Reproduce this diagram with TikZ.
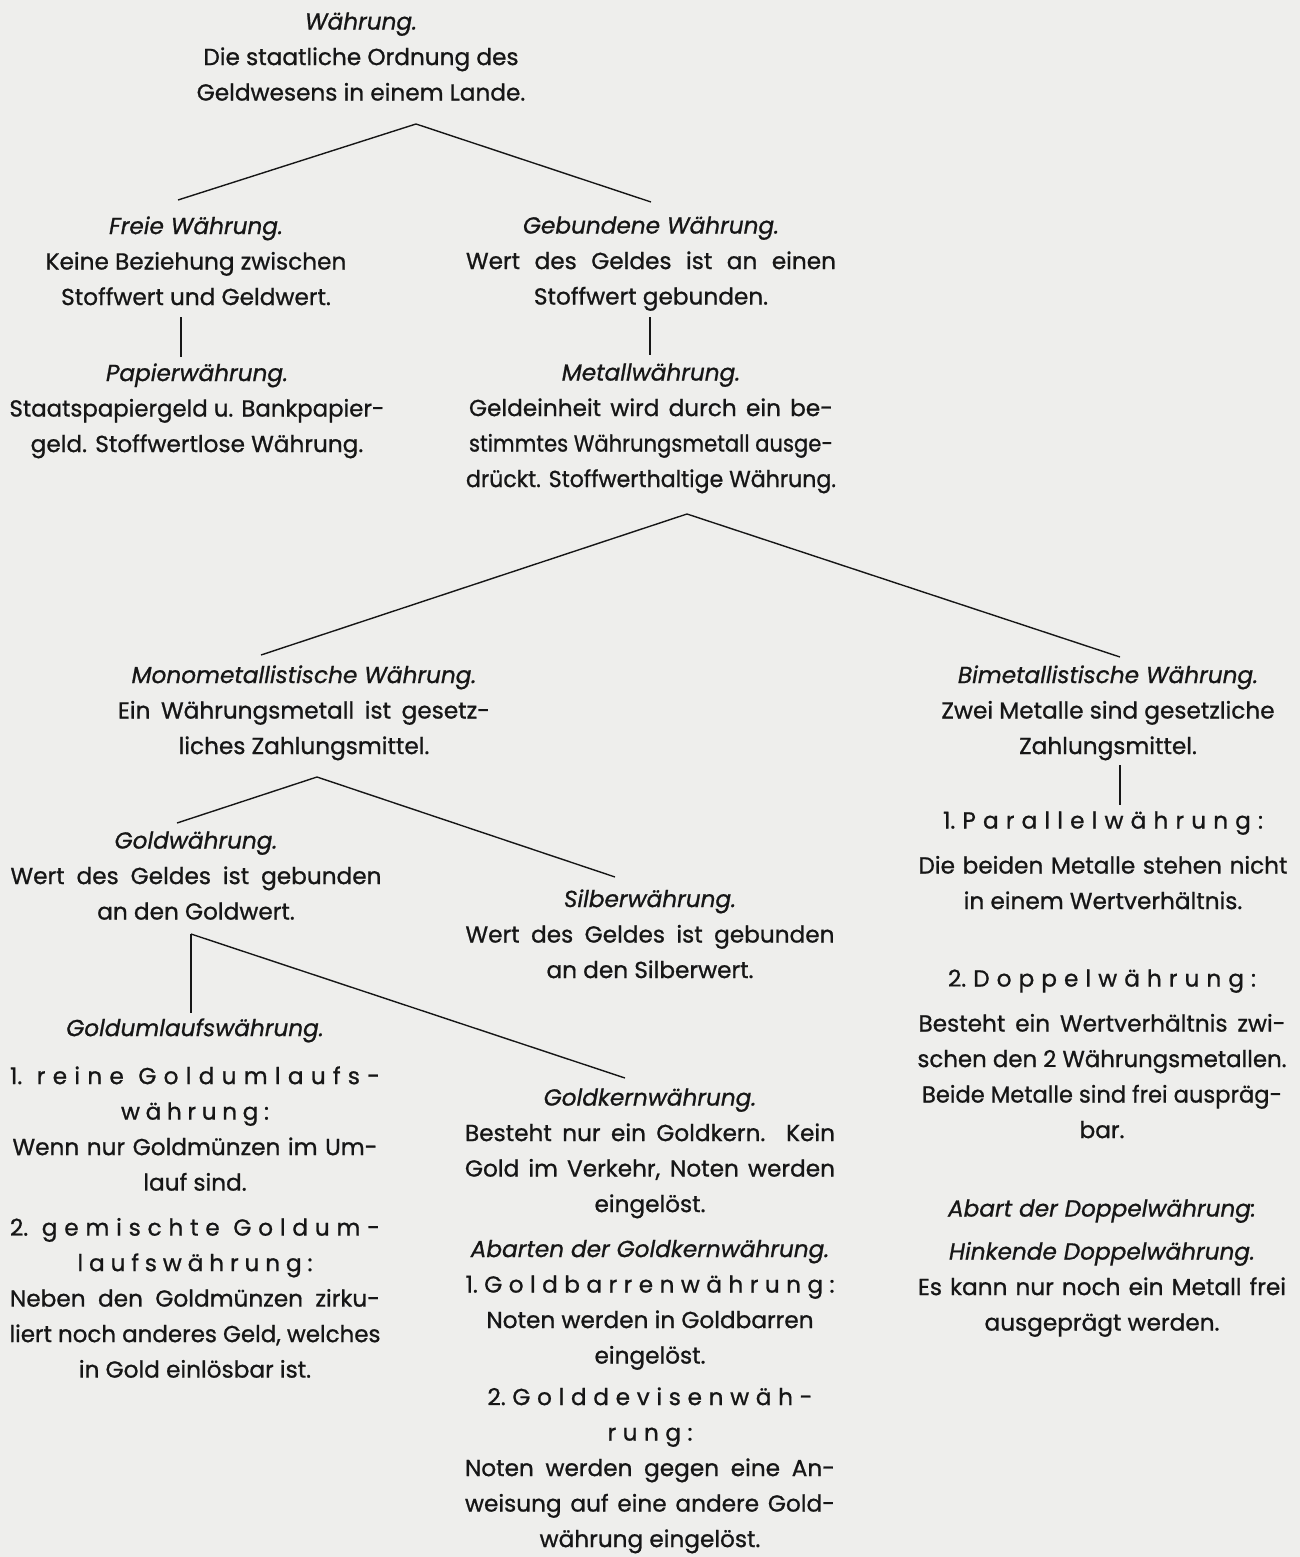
\documentclass[tikz,border=0pt]{standalone}
\usepackage{fontspec}
\setmainfont{Poppins}[FakeBold=0.9]
\usepackage{graphicx}
\usepackage{xcolor}
\usepackage{tikz}

\definecolor{papier}{RGB}{238,238,236}
\definecolor{tinte}{RGB}{22,22,22}

% justified line of a given width
\newlength\colw \setlength\colw{185pt}
\newlength\jlwd
\newcommand\jl[2][\colw]{\settowidth\jlwd{#2}\ifdim\jlwd>#1\resizebox{#1}{\height}{#2}\else\makebox[#1][s]{#2}\fi}

% letter-spaced line, | marks a word gap
\makeatletter
\newcommand\gesperrt[2]{\makebox[#1][s]{\gesp@a#2\@nil}}
\def\gesp@a#1{#1\gesp@b}
\def\gesp@b#1{\ifx#1\@nil\else\hfill\ifx#1|\else#1\fi\expandafter\gesp@b\fi}
\makeatother

\tikzset{
	blk/.style={anchor=north, align=center, inner sep=0pt, text=tinte,
		font=\fontsize{11.6}{17.75}\selectfont, execute at begin node=\strut},
	ast/.style={draw=tinte, line width=0.7pt},
}

\begin{document}
\begin{tikzpicture}[x=0.5pt,y=-0.5pt]
	\fill [papier] (0,0) rectangle (1300,1557);
	\useasboundingbox (0,0) rectangle (1300,1557);

	\node (waehrung) at (361,12)   [blk] {\textit{Währung.}\\ Die staatliche Ordnung des\\ Geldwesens in einem Lande.};
	\node (frei)     at (196,216)  [blk] {\textit{Freie Währung.}\\ Keine Beziehung zwischen\\ Stoffwert und Geldwert.};
	\node (papier)   at (197,363)  [blk] {\textit{Papierwährung.}\\ \jl[187.5pt]{Staatspapiergeld u. Bankpapier-}\\ geld. Stoffwertlose Währung.};
	\node (gebunden) at (651,216)  [blk] {\textit{Gebundene Währung.}\\ \jl{Wert des Geldes ist an einen}\\ Stoffwert gebunden.};
	\node (metall)   at (651,363)  [blk] {\textit{Metallwährung.}\\ \jl[182pt]{Geldeinheit wird durch ein be-}\\
		\jl[182pt]{stimmtes Währungsmetall ausge-}\\ \jl{drückt. Stoffwerthaltige Währung.}};
	\node (mono)     at (304,665)  [blk] {\textit{Monometallistische Währung.}\\ \jl[186pt]{Ein Währungsmetall ist gesetz-}\\ liches Zahlungsmittel.};
	\node (bimetall) at (1108,665) [blk] {\textit{Bimetallistische Währung.}\\ Zwei Metalle sind gesetzliche\\ Zahlungsmittel.};
	\node (parallel) at (1103,811) [blk] {\gesperrt{160pt}{{1.}Parallelwährung:}\\[4.75pt]
		\jl[184.5pt]{Die beiden Metalle stehen nicht}\\ in einem Wertverhältnis.};
	\node (doppel)   at (1102,969) [blk] {\gesperrt{154pt}{{2.}Doppelwährung:}\\[4.75pt]
		\jl[183.5pt]{Besteht ein Wertverhältnis zwi-}\\ \jl[184.5pt]{schen den 2 Währungsmetallen.}\\
		\jl[180pt]{Beide Metalle sind frei auspräg-}\\ bar.};
	\node (hinkend)  at (1102,1199) [blk] {\textit{Abart der Doppelwährung:}\\[3.75pt] \textit{Hinkende Doppelwährung.}\\
		\jl[184pt]{Es kann nur noch ein Metall frei}\\ ausgeprägt werden.};
	\node (gold)     at (196,831)  [blk] {\textit{Goldwährung.}\\ \jl[185.5pt]{Wert des Geldes ist gebunden}\\ an den Goldwert.};
	\node (silber)   at (650,889)  [blk] {\textit{Silberwährung.}\\ \jl[184.5pt]{Wert des Geldes ist gebunden}\\ an den Silberwert.};
	\node (umlauf)   at (195,1018) [blk] {\textit{Goldumlaufswährung.}\\[6.25pt]
		\gesperrt{185pt}{{1.}|reine|Goldumlaufs-}\\ \gesperrt{74pt}{währung:}\\
		\jl[182.5pt]{Wenn nur Goldmünzen im Um-}\\ lauf sind.\\[4.75pt]
		\gesperrt{185pt}{{2.}|gemischte|Goldum-}\\ \gesperrt{117.5pt}{laufswährung:}\\
		\jl{Neben den Goldmünzen zirku-}\\ \jl[185.5pt]{liert noch anderes Geld, welches}\\ in Gold einlösbar ist.};
	\node (kern)     at (650,1088) [blk] {\textit{Goldkernwährung.}\\ \jl{Besteht nur ein Goldkern.\ \ Kein}\\
		\jl{Gold im Verkehr, Noten werden}\\ eingelöst.\\[4.75pt]
		\textit{Abarten der Goldkernwährung.}\\ \gesperrt{184.5pt}{{1.}Goldbarrenwährung:}\\
		Noten werden in Goldbarren\\ eingelöst.\\[3pt]
		\gesperrt{162.5pt}{{2.}Golddevisenwäh-}\\ \gesperrt{42.5pt}{rung:}\\
		\jl{Noten werden gegen eine An-}\\ \jl{weisung auf eine andere Gold-}\\ währung eingelöst.};

	\coordinate (waehrung-ast) at (416,124);
	\coordinate (frei-ein)     at (178,200);
	\coordinate (gebunden-ein) at (651,202);
	\coordinate (frei-aus)     at (181,317);
	\coordinate (papier-ein)   at (181,357);
	\coordinate (gebunden-aus) at (650,317);
	\coordinate (metall-ein)   at (650,355);
	\coordinate (metall-ast)   at (687,514);
	\coordinate (mono-ein)     at (261,655);
	\coordinate (bimetall-ein) at (1120,657);
	\coordinate (mono-ast)     at (317,777);
	\coordinate (gold-ein)     at (177,823);
	\coordinate (silber-ein)   at (615,877);
	\coordinate (bimetall-aus) at (1120,765);
	\coordinate (parallel-ein) at (1120,805);
	\coordinate (gold-aus)     at (191,934);
	\coordinate (umlauf-ein)   at (191,1013);
	\coordinate (kern-ein)     at (625,1078);

	\draw [ast] (waehrung-ast) to (frei-ein);
	\draw [ast] (waehrung-ast) to (gebunden-ein);
	\draw [ast] (frei-aus)     to (papier-ein);
	\draw [ast] (gebunden-aus) to (metall-ein);
	\draw [ast] (metall-ast)   to (mono-ein);
	\draw [ast] (metall-ast)   to (bimetall-ein);
	\draw [ast] (mono-ast)     to (gold-ein);
	\draw [ast] (mono-ast)     to (silber-ein);
	\draw [ast] (bimetall-aus) to (parallel-ein);
	\draw [ast] (gold-aus)     to (umlauf-ein);
	\draw [ast] (gold-aus)     to (kern-ein);
\end{tikzpicture}
\end{document}
